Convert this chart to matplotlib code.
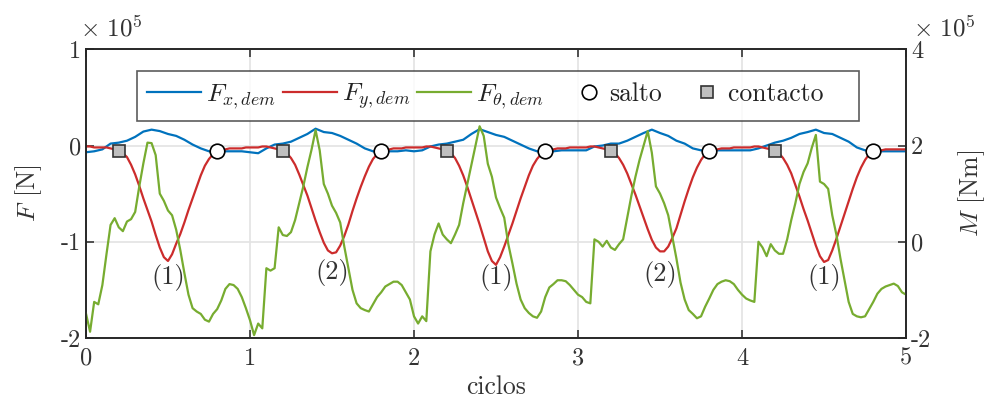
import numpy as np
import matplotlib
matplotlib.use("Agg")
import matplotlib.pyplot as plt
from matplotlib.legend_handler import HandlerLine2D

plt.rcParams['font.family'] = 'serif'
plt.rcParams['font.serif'] = ['cmr10']
plt.rcParams['mathtext.fontset'] = 'cm'
plt.rcParams['axes.unicode_minus'] = False
plt.rcParams['axes.formatter.use_mathtext'] = True

# tiempos (ciclos)
t_f = np.arange(0, 101) * 0.05      # Fx
t_m = np.arange(0, 201) * 0.025     # Fy, Ftheta

# F_x,dem  [x1e5 N]
fx = [-0.07, -0.06, -0.04, 0.02, 0.03, 0.05, 0.09, 0.145, 0.165, 0.15, 0.12, 0.10, 0.06, 0.01, -0.03, -0.06, -0.07, -0.06, -0.06, -0.06,
      -0.07, -0.08, -0.03, 0.01, 0.02, 0.04, 0.08, 0.12, 0.175, 0.14, 0.13, 0.10, 0.06, 0.02, -0.03, -0.06, -0.07, -0.06, -0.06, -0.05,
      -0.06, -0.05, -0.01, 0.01, 0.02, 0.04, 0.06, 0.12, 0.17, 0.14, 0.11, 0.09, 0.05, 0.01, -0.03, -0.06, -0.07, -0.06, -0.05, -0.05,
      -0.05, -0.05, -0.01, 0.00, 0.02, 0.02, 0.05, 0.09, 0.13, 0.165, 0.13, 0.10, 0.05, 0.02, -0.03, -0.05, -0.06, -0.05, -0.05, -0.05,
      -0.05, -0.05, -0.03, 0.00, 0.03, 0.05, 0.08, 0.12, 0.14, 0.165, 0.13, 0.12, 0.08, 0.04, -0.02, -0.05, -0.06, -0.06, -0.06, -0.06,
      -0.06]

# F_y,dem  [x1e5 N]
fy = [-0.01, -0.01, -0.02, -0.02, -0.02, -0.02, -0.03, -0.04, -0.06, -0.08,
      -0.12, -0.20, -0.30, -0.42, -0.55, -0.67, -0.79, -0.93, -1.06, -1.16,
      -1.20, -1.13, -1.02, -0.92, -0.80, -0.67, -0.55, -0.43, -0.31, -0.21,
      -0.14, -0.09, -0.06, -0.05, -0.04, -0.03, -0.03, -0.03, -0.03, -0.02,
      -0.02, -0.02, -0.02, -0.01, -0.01, -0.02, -0.03, -0.04, -0.06, -0.08,
      -0.13, -0.20, -0.30, -0.41, -0.52, -0.65, -0.78, -0.90, -1.01, -1.09,
      -1.12, -1.11, -1.04, -0.94, -0.82, -0.68, -0.55, -0.43, -0.32, -0.22,
      -0.14, -0.09, -0.06, -0.05, -0.04, -0.03, -0.03, -0.03, -0.02, -0.02,
      -0.02, -0.02, -0.02, -0.01, -0.01, -0.02, -0.03, -0.04, -0.06, -0.08,
      -0.13, -0.21, -0.31, -0.43, -0.56, -0.69, -0.82, -0.96, -1.10, -1.20,
      -1.24, -1.16, -1.05, -0.93, -0.81, -0.68, -0.55, -0.43, -0.31, -0.21,
      -0.14, -0.09, -0.06, -0.05, -0.04, -0.03, -0.03, -0.03, -0.02, -0.02,
      -0.02, -0.02, -0.02, -0.01, -0.01, -0.02, -0.03, -0.04, -0.06, -0.08,
      -0.13, -0.20, -0.29, -0.40, -0.51, -0.63, -0.75, -0.87, -0.98, -1.06,
      -1.10, -1.10, -1.05, -0.96, -0.86, -0.72, -0.58, -0.45, -0.33, -0.23,
      -0.15, -0.09, -0.06, -0.05, -0.04, -0.03, -0.03, -0.03, -0.02, -0.02,
      -0.02, -0.02, -0.02, -0.01, -0.01, -0.02, -0.03, -0.04, -0.06, -0.08,
      -0.13, -0.20, -0.29, -0.41, -0.53, -0.66, -0.78, -0.91, -1.04, -1.15,
      -1.21, -1.19, -1.09, -0.97, -0.84, -0.71, -0.58, -0.45, -0.33, -0.23,
      -0.15, -0.09, -0.06, -0.05, -0.05, -0.04, -0.04, -0.04, -0.04, -0.04,
      -0.04]

# F_theta,dem  [x1e5 Nm]
ftheta = [-1.49, -1.87, -1.25, -1.30, -0.90, -0.26, 0.35, 0.49, 0.30, 0.22,
          0.42, 0.47, 0.62, 1.15, 1.63, 2.06, 2.05, 1.80, 1.00, 0.85,
          0.65, 0.55, 0.25, -0.17, -0.65, -1.10, -1.38, -1.45, -1.50, -1.62,
          -1.66, -1.50, -1.40, -1.22, -0.98, -0.88, -0.90, -0.98, -1.15, -1.38,
          -1.63, -1.94, -1.70, -1.80, -0.55, -0.60, -0.55, 0.30, 0.14, 0.12,
          0.20, 0.45, 0.80, 1.15, 1.55, 1.91, 2.32, 1.90, 1.20, 1.00,
          0.75, 0.60, 0.40, -0.10, -0.55, -1.00, -1.28, -1.38, -1.42, -1.45,
          -1.30, -1.15, -1.05, -0.93, -0.88, -0.83, -0.83, -0.90, -1.05, -1.20,
          -1.55, -1.70, -1.55, -1.65, -0.20, 0.15, 0.38, 0.15, 0.05, -0.03,
          0.15, 0.35, 0.80, 1.20, 1.60, 2.00, 2.40, 2.20, 1.62, 1.35,
          0.92, 0.70, 0.50, -0.05, -0.45, -0.87, -1.20, -1.38, -1.48, -1.55,
          -1.58, -1.45, -1.15, -0.95, -0.88, -0.80, -0.80, -0.82, -0.90, -1.00,
          -1.10, -1.15, -1.25, -1.28, 0.05, 0.00, -0.10, 0.02, -0.12, -0.17,
          -0.05, 0.05, 0.50, 0.95, 1.35, 1.70, 2.00, 2.30, 1.85, 1.15,
          1.00, 0.80, 0.55, 0.10, -0.35, -0.85, -1.20, -1.42, -1.50, -1.59,
          -1.55, -1.35, -1.18, -1.00, -0.88, -0.83, -0.80, -0.82, -0.88, -1.00,
          -1.10, -1.18, -1.22, -1.25, 0.00, -0.12, -0.30, -0.05, -0.18, -0.25,
          -0.25, 0.05, 0.45, 0.80, 1.20, 1.45, 1.63, 1.95, 2.22, 1.25,
          1.20, 1.10, 0.55, 0.15, -0.35, -0.80, -1.25, -1.50, -1.55, -1.57,
          -1.55, -1.40, -1.25, -1.08, -0.98, -0.93, -0.90, -0.87, -0.92, -1.05,
          -1.10]

# eventos
contacto_t = [0.2, 1.2, 2.2, 3.2, 4.2]
contacto_f = [-0.06, -0.06, -0.06, -0.06, -0.06]
salto_t = [0.8, 1.8, 2.8, 3.8, 4.8]
salto_f = [-0.06, -0.06, -0.06, -0.06, -0.06]

# etiquetas de los minimos
etiq = ['(1)', '(2)', '(1)', '(2)', '(1)']
etiq_t = [0.5, 1.5, 2.5, 3.5, 4.5]
etiq_f = [-1.37, -1.32, -1.37, -1.34, -1.37]

azul = '#0072BD'
rojo = '#CC2C2C'
verde = '#77AC30'
gris = '#262626'

fig = plt.figure(figsize=(9.87, 4.04), dpi=100)
ax1 = fig.add_axes([0.0871, 0.1634, 0.8309, 0.7146])
ax2 = ax1.twinx()

l1, = ax1.plot(t_f, fx, color=azul, lw=1.6, label=r'$F_{x,dem}$')
l2, = ax1.plot(t_m, fy, color=rojo, lw=1.6, label=r'$F_{y,dem}$')
l3, = ax2.plot(t_m, ftheta, color=verde, lw=1.6, label=r'$F_{\theta,dem}$')
m1, = ax1.plot(salto_t, salto_f, ls='none', marker='o', ms=10.5, mfc='white', mec='black', mew=1.2, label='salto', zorder=5)
# espacios finales: hueco a la derecha del cuadro de leyenda
m2, = ax1.plot(contacto_t, contacto_f, ls='none', marker='s', ms=9, mfc='#BFBFBF', mec='#333333', mew=1.2, label='contacto   ', zorder=5)

for s, x, y in zip(etiq, etiq_t, etiq_f):
    ax1.text(x, y, s, ha='center', va='center', fontsize=19, color='#333333')

ax1.set_xlim(0, 5)
ax1.set_ylim(-2, 1)
ax2.set_ylim(-2, 4)
ax1.set_xticks([0, 1, 2, 3, 4, 5])
ax1.set_xticklabels(['0', '1', '2', '3', '4', '5'])
ax1.set_yticks([-2, -1, 0, 1])
ax1.set_yticklabels(['-2', '-1', '0', '1'])
ax2.set_yticks([-2, 0, 2, 4])
ax2.set_yticklabels(['-2', '0', '2', '4'])

ax1.grid(True, color='#E3E3E3', lw=1.2)
ax1.set_axisbelow(True)
ax1.tick_params(axis='both', direction='in', length=6, width=1.1, colors=gris, labelsize=17.5, labelcolor='#333333', top=True)
ax1.tick_params(axis='x', pad=7)
ax2.tick_params(axis='y', direction='in', length=6, width=1.1, colors=gris, labelsize=17.5, labelcolor='#333333')
for ax in (ax1, ax2):
    for sp in ax.spines.values():
        sp.set_color(gris)
        sp.set_linewidth(1.2)

ax1.set_xlabel('ciclos', fontsize=18.5, color='#333333', labelpad=4)
ax1.set_ylabel(r'$F$ [N]', fontsize=18.5, color='#333333', labelpad=12)
ax2.set_ylabel(r'$M$ [Nm]', fontsize=18.5, color='#333333', labelpad=18)

fig.text(0.081, 0.93, r'$\times\ 10^5$', fontsize=18, color='#333333', ha='left', va='center')
fig.text(0.925, 0.93, r'$\times\ 10^5$', fontsize=18, color='#333333', ha='left', va='center')

# marcadores desplazados hacia el texto
hm = HandlerLine2D(xpad=0.88)
leg = ax2.legend(handles=[l1, l2, l3, m1, m2], loc='upper left', bbox_to_anchor=(0.0622, 0.925),
                 ncol=5, fontsize=18.5, frameon=True, fancybox=False, edgecolor='#333333',
                 handlelength=2.1, handletextpad=0.2, columnspacing=0.25, borderpad=0.4,
                 markerscale=1.0, borderaxespad=0,
                 handler_map={m1: hm, m2: hm})
leg.get_frame().set_linewidth(1.2)
for txt in leg.get_texts():
    txt.set_color('#222222')

fig.savefig('out.png', dpi=100)
